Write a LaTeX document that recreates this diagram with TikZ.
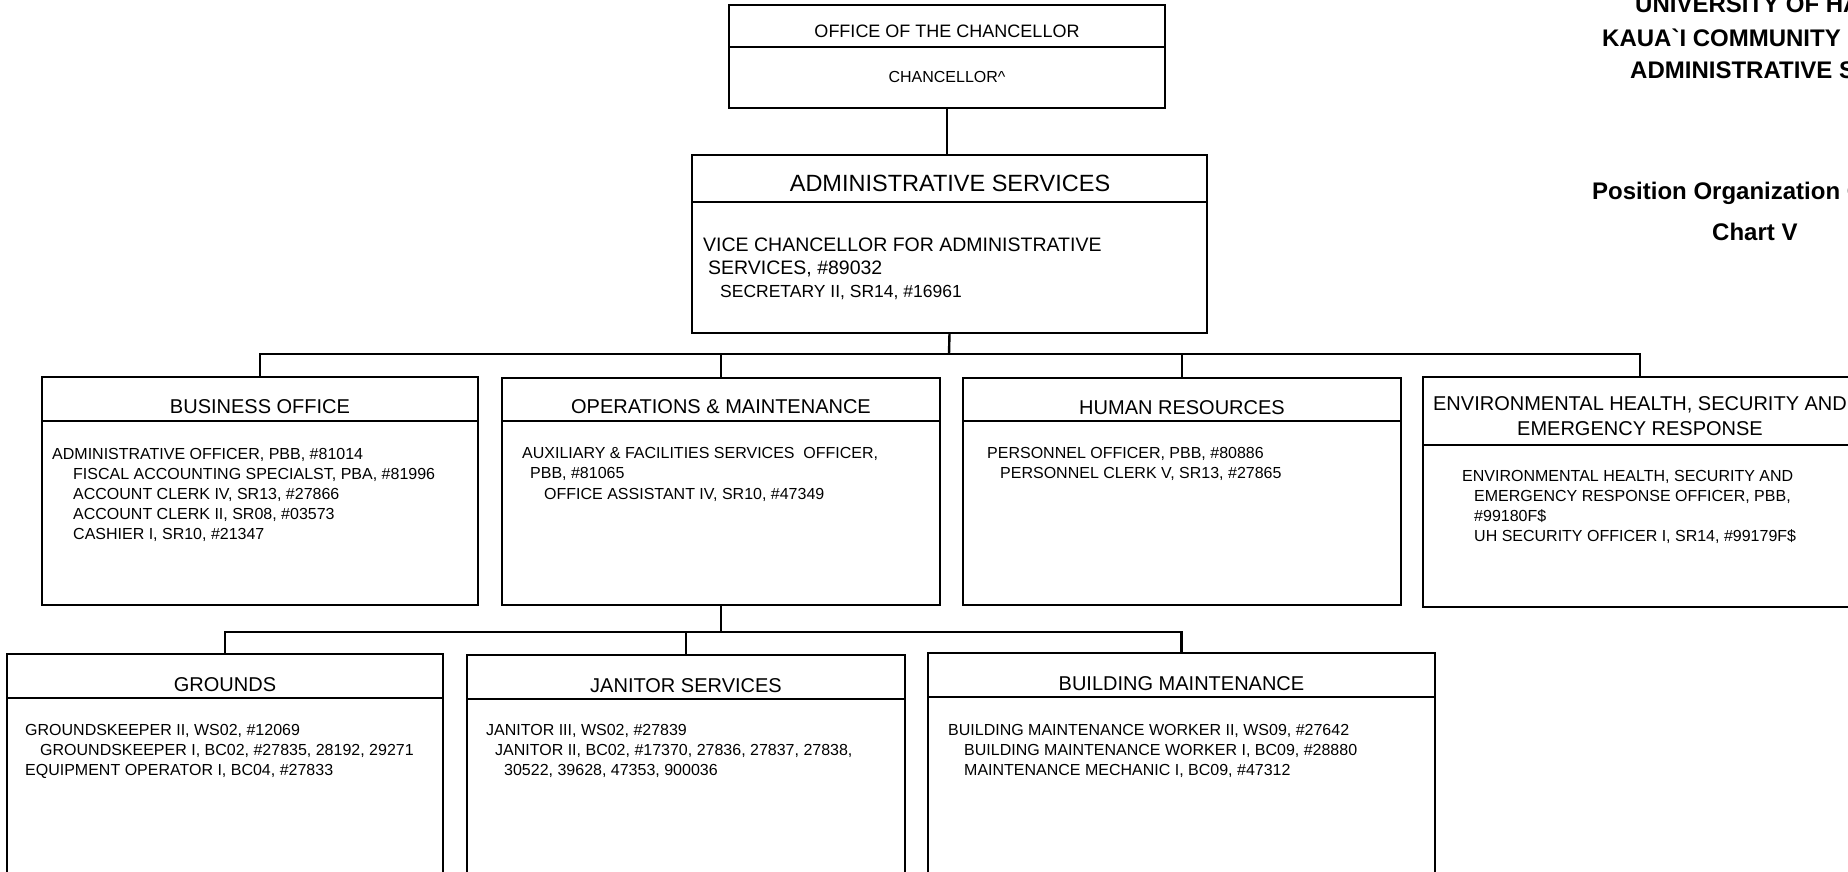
\documentclass[tikz,border=0pt]{standalone}
\usepackage{fontspec}
\setmainfont{Liberation Sans}
\begin{document}
\begin{tikzpicture}[x=1pt,y=-1pt,
  box/.style={draw, line width=2.4pt, inner sep=0pt, outer sep=0pt},
  conn/.style={line width=2.4pt},
  ttl/.style={anchor=base, inner sep=0pt, font=\fontsize{20}{24}\selectfont},
  bt/.style={anchor=base west, inner sep=0pt, font=\fontsize{16}{20}\selectfont},
  hd/.style={anchor=base west, inner sep=0pt, font=\bfseries\fontsize{24}{28}\selectfont}]
\useasboundingbox (0,0) rectangle (1848,872);
\clip (0,0) rectangle (1848,872);

% boxes
\node[box, minimum width=436pt, minimum height=103pt] (chanc) at (947,56.5) {};
\node[box, minimum width=515pt, minimum height=178pt] (admin) at (949.5,244) {};
\node[box, minimum width=436pt, minimum height=228pt] (busoff) at (260,491) {};
\node[box, minimum width=438pt, minimum height=227pt] (ops) at (721,491.5) {};
\node[box, minimum width=438pt, minimum height=227pt] (hr) at (1182,491.5) {};
\node[box, minimum width=434pt, minimum height=230pt] (env) at (1640,492) {};
\node[box, minimum width=436pt, minimum height=246pt] (grounds) at (225,777) {};
\node[box, minimum width=438pt, minimum height=246pt] (jan) at (686,778) {};
\node[box, minimum width=507pt, minimum height=246pt] (bldg) at (1181.5,776) {};

% dividers
\draw[conn] (chanc.west |- 0,47) -- (chanc.east |- 0,47);
\draw[conn] (admin.west |- 0,202) -- (admin.east |- 0,202);
\draw[conn] (busoff.west |- 0,421) -- (busoff.east |- 0,421);
\draw[conn] (ops.west |- 0,421) -- (ops.east |- 0,421);
\draw[conn] (hr.west |- 0,421) -- (hr.east |- 0,421);
\draw[conn] (env.west |- 0,445) -- (env.east |- 0,445);
\draw[conn] (grounds.west |- 0,698) -- (grounds.east |- 0,698);
\draw[conn] (jan.west |- 0,699) -- (jan.east |- 0,699);
\draw[conn] (bldg.west |- 0,697) -- (bldg.east |- 0,697);

% connectors
\draw[conn] (chanc.south) -- (chanc.south |- admin.north);
\coordinate (j1) at (949,354);
\draw[conn] (admin.south) -- (j1);
\draw[conn] (busoff.north) -- (busoff.north |- j1) -- (env.north |- j1) -- (env.north);
\draw[conn] (ops.north) -- (ops.north |- j1);
\draw[conn] (hr.north) -- (hr.north |- j1);
\coordinate (j2) at (721,632);
\draw[conn] (ops.south) -- (j2);
\draw[conn] (grounds.north) -- (grounds.north |- j2) -- (bldg.north |- j2) -- (bldg.north);
\draw[conn] (jan.north) -- (jan.north |- j2);

% chancellor
\node[ttl, font=\fontsize{18}{22}\selectfont] (chancT) at (947,38) {OFFICE OF THE CHANCELLOR};
\node[ttl, font=\fontsize{16}{20}\selectfont] (chancB) at (947,83) {CHANCELLOR\textasciicircum};

% admin
\node[ttl, font=\fontsize{23.5}{28}\selectfont] (adminT) at (950,192) {ADMINISTRATIVE SERVICES};
\node[bt, font=\fontsize{19.5}{23}\selectfont] (adminB1) at (703,251) {VICE CHANCELLOR FOR ADMINISTRATIVE};
\node[bt, font=\fontsize{19.5}{23}\selectfont] (adminB2) at (708,274) {SERVICES, \#89032};
\node[bt, font=\fontsize{17.5}{21}\selectfont] (adminB3) at (720,297) {SECRETARY II, SR14, \#16961};

% business office
\node[ttl] (busT) at (260,413) {BUSINESS OFFICE};
\node[bt] (busB1) at (52,459) {ADMINISTRATIVE OFFICER, PBB, \#81014};
\node[bt] (busB2) at (73,479) {FISCAL ACCOUNTING SPECIALST, PBA, \#81996};
\node[bt] (busB3) at (73,499) {ACCOUNT CLERK IV, SR13, \#27866};
\node[bt] (busB4) at (73,519) {ACCOUNT CLERK II, SR08, \#03573};
\node[bt] (busB5) at (73,539) {CASHIER I, SR10, \#21347};

% operations
\node[ttl] (opsT) at (721,413) {OPERATIONS \& MAINTENANCE};
\node[bt] (opsB1) at (522,458) {AUXILIARY \& FACILITIES SERVICES\ \ OFFICER,};
\node[bt] (opsB2) at (530,478) {PBB, \#81065};
\node[bt] (opsB3) at (544,499) {OFFICE ASSISTANT IV, SR10, \#47349};

% human resources
\node[ttl] (hrT) at (1182,414) {HUMAN RESOURCES};
\node[bt] (hrB1) at (987,458) {PERSONNEL OFFICER, PBB, \#80886};
\node[bt] (hrB2) at (1000,478) {PERSONNEL CLERK V, SR13, \#27865};

% environmental health
\node[ttl] (envT1) at (1640,410) {ENVIRONMENTAL HEALTH, SECURITY AND};
\node[ttl] (envT2) at (1640,435) {EMERGENCY RESPONSE};
\node[bt] (envB1) at (1462,481) {ENVIRONMENTAL HEALTH, SECURITY AND};
\node[bt] (envB2) at (1474,501) {EMERGENCY RESPONSE OFFICER, PBB,};
\node[bt] (envB3) at (1474,521) {\#99180F\$};
\node[bt] (envB4) at (1474,541) {UH SECURITY OFFICER I, SR14, \#99179F\$};

% grounds
\node[ttl] (grT) at (225,691) {GROUNDS};
\node[bt] (grB1) at (25,735) {GROUNDSKEEPER II, WS02, \#12069};
\node[bt] (grB2) at (40,755) {GROUNDSKEEPER I, BC02, \#27835, 28192, 29271};
\node[bt] (grB3) at (25,775) {EQUIPMENT OPERATOR I, BC04, \#27833};

% janitor
\node[ttl] (janT) at (686,692) {JANITOR SERVICES};
\node[bt] (janB1) at (486,735) {JANITOR III, WS02, \#27839};
\node[bt] (janB2) at (495,755) {JANITOR II, BC02, \#17370, 27836, 27837, 27838,};
\node[bt] (janB3) at (504,775) {30522, 39628, 47353, 900036};

% building maintenance
\node[ttl] (bmT) at (1181.5,690) {BUILDING MAINTENANCE};
\node[bt] (bmB1) at (948,735) {BUILDING MAINTENANCE WORKER II, WS09, \#27642};
\node[bt] (bmB2) at (964,755) {BUILDING MAINTENANCE WORKER I, BC09, \#28880};
\node[bt] (bmB3) at (964,775) {MAINTENANCE MECHANIC I, BC09, \#47312};

% heading
\node[hd] (h1) at (1635,13) {UNIVERSITY OF HAWAI\textasciigrave I};
\node[hd] (h2) at (1602,47) {KAUA\textasciigrave I COMMUNITY COLLEGE};
\node[hd] (h3) at (1630,79) {ADMINISTRATIVE SERVICES};
\node[hd] (h4) at (1592,200) {Position Organization Chart};
\node[hd] (h5) at (1712,240) {Chart V};
\end{tikzpicture}
\end{document}
